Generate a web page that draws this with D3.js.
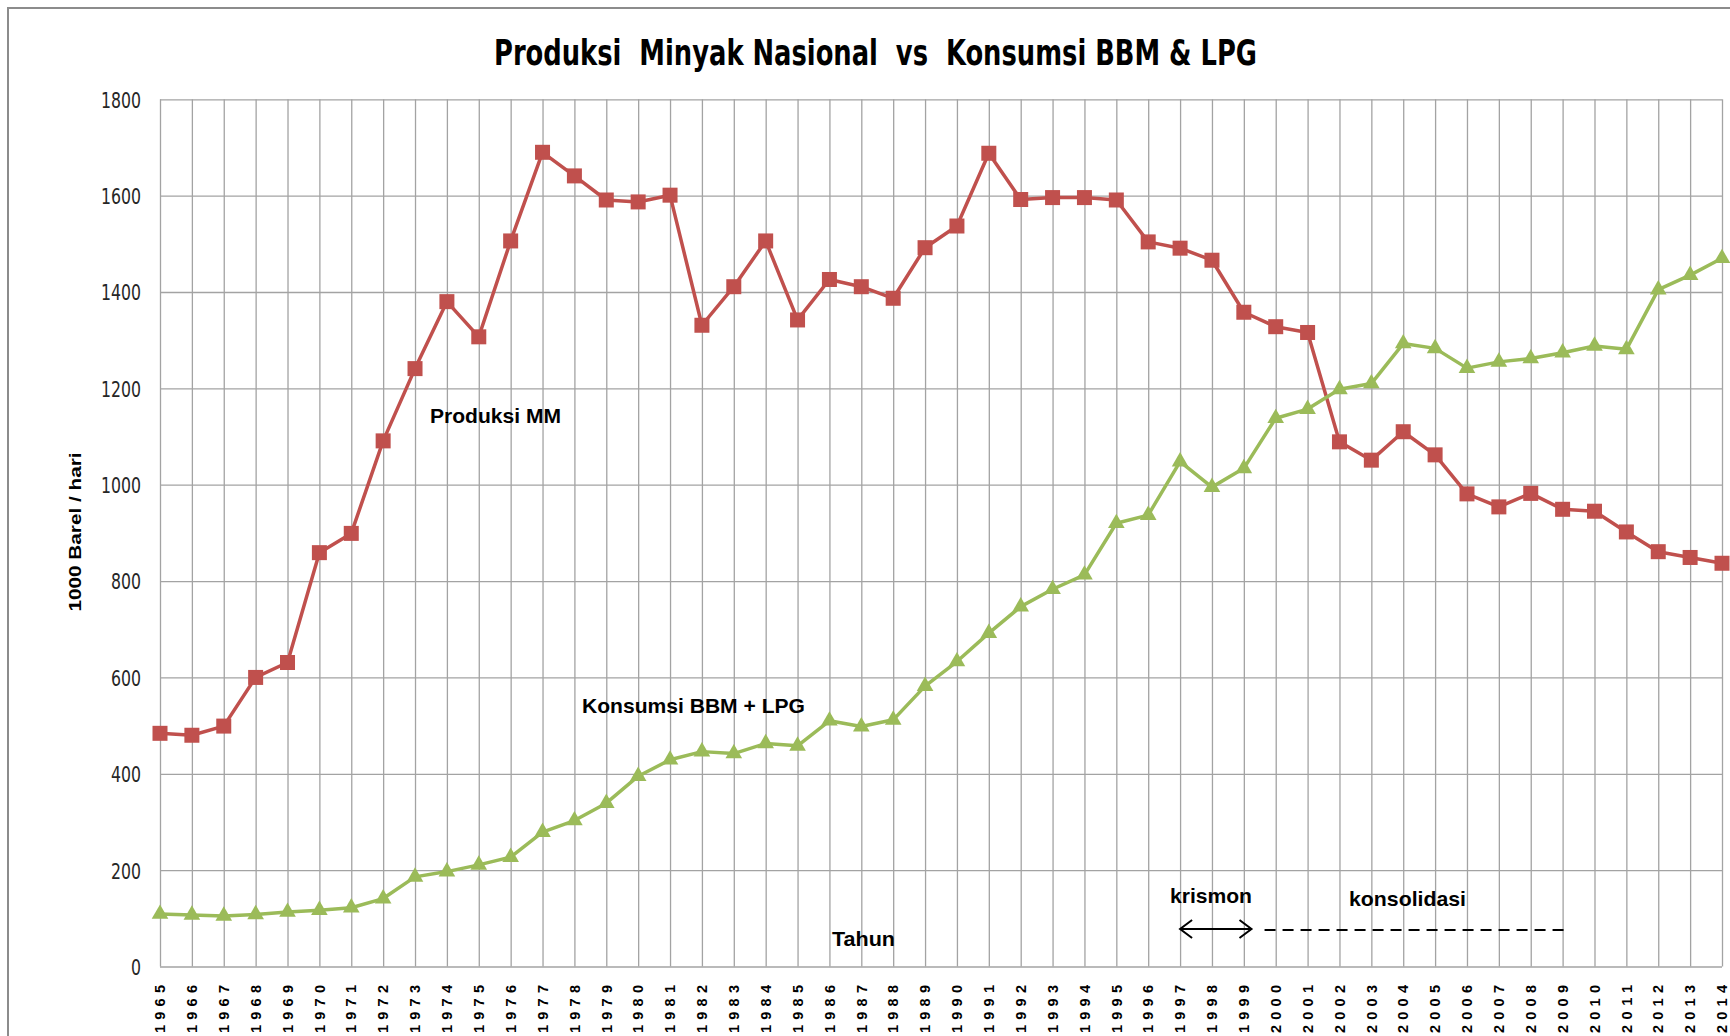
<!doctype html>
<html>
<head>
<meta charset="utf-8">
<style>
  body { margin: 0; background: #fff; }
  .grid line { stroke: #a3a3a3; stroke-width: 1.3; }
  .ytick text { font-family: "Liberation Sans Narrow", "DejaVu Sans Condensed", "Liberation Sans", sans-serif; font-size: 22px; fill: #262626; }
  .note { font-family: "Liberation Sans", Arial, sans-serif; font-weight: bold; font-size: 21px; fill: #000; }
</style>
<script src="https://d3js.org/d3.v7.min.js"></script>
</head>
<body>
<svg width="1730" height="1036" id="chart"></svg>
<script>
var years = d3.range(1965, 2015);
var produksi = [484, 480, 499, 600, 631, 859, 899, 1091, 1241, 1380,
                1307, 1506, 1690, 1641, 1591, 1587, 1601, 1331, 1411, 1506,
                1342, 1426, 1411, 1387, 1492, 1537, 1688, 1592, 1596, 1596,
                1591, 1504, 1491, 1466, 1358, 1328, 1316, 1089, 1051, 1110,
                1062, 981, 954, 982, 949, 945, 902, 861, 849, 837];
var konsumsi = [109, 107, 105, 108, 113, 117, 122, 141, 186, 197,
                211, 227, 279, 303, 339, 395, 429, 446, 442, 463,
                458, 510, 498, 512, 582, 633, 692, 747, 783, 813,
                920, 937, 1048, 995, 1034, 1138, 1157, 1198, 1210, 1293,
                1283, 1242, 1255, 1262, 1274, 1288, 1281, 1405, 1435, 1470];
var yTicks = [0, 200, 400, 600, 800, 1000, 1200, 1400, 1600, 1800];

var svg = d3.select("#chart");
var plotL = 160, plotR = 1722, plotT = 99.3, plotB = 966.5;

var x = d3.scalePoint().domain(years).range([plotL, plotR]);
var xf = d3.scaleLinear().domain([1965, 2014]).range([plotL, plotR]); // for notes between years
var y = d3.scaleLinear().domain([0, 1800]).range([plotB, plotT]);

// chart border
svg.append("rect")
   .attr("x", 8).attr("y", 8)
   .attr("width", 1760).attr("height", 1060)
   .attr("fill", "#fff")
   .attr("stroke", "#8c8c8c")
   .attr("stroke-width", 2);

// title
svg.append("text")
   .attr("x", 494).attr("y", 65)
   .attr("textLength", 763)
   .attr("lengthAdjust", "spacingAndGlyphs")
   .style("white-space", "pre")
   .style("font-family", "'Liberation Sans Narrow', 'DejaVu Sans Condensed', 'Liberation Sans', sans-serif")
   .style("font-weight", "bold")
   .style("font-size", "35px")
   .text("Produksi  Minyak Nasional  vs  Konsumsi BBM & LPG");

// vertical gridlines
svg.append("g")
   .attr("class", "grid")
   .attr("transform", "translate(0," + plotB + ")")
   .call(d3.axisBottom(x).tickSize(-(plotB - plotT)).tickFormat(""))
   .call(function(g) { g.select(".domain").remove(); });

// horizontal gridlines + labels
svg.append("g")
   .attr("class", "grid ytick")
   .attr("transform", "translate(" + plotL + ",0)")
   .call(d3.axisLeft(y).tickValues(yTicks).tickFormat(d3.format("d"))
          .tickSize(-(plotR - plotL)).tickPadding(19))
   .call(function(g) { g.select(".domain").remove(); })
   .call(function(g) {
       g.selectAll("text").attr("dy", "0.36em").attr("textLength", function(d) {
           return String(d).length * 10;
       }).attr("lengthAdjust", "spacingAndGlyphs");
   });

// year labels
svg.append("g").selectAll("text")
   .data(years)
   .enter().append("text")
   .attr("transform", function(d) { return "translate(" + x(d) + ",985) rotate(-90)"; })
   .attr("text-anchor", "end")
   .attr("dy", "0.36em")
   .attr("textLength", 48)
   .attr("lengthAdjust", "spacing")
   .style("font-family", "'Liberation Sans', Arial, sans-serif")
   .style("font-weight", "bold")
   .style("font-size", "14.5px")
   .text(function(d) { return d; });

// y axis title
svg.append("text")
   .attr("transform", "translate(75,532) rotate(-90)")
   .attr("text-anchor", "middle")
   .attr("dy", "0.36em")
   .attr("textLength", 159)
   .attr("lengthAdjust", "spacingAndGlyphs")
   .style("font-family", "'Liberation Sans', Arial, sans-serif")
   .style("font-weight", "bold")
   .style("font-size", "16px")
   .text("1000 Barel / hari");

var line = d3.line()
   .x(function(d, i) { return x(years[i]); })
   .y(function(d) { return y(d); });

// Produksi MM
svg.append("path")
   .datum(produksi)
   .attr("d", line)
   .attr("fill", "none")
   .attr("stroke", "#C0504D")
   .attr("stroke-width", 3.5)
   .attr("stroke-linejoin", "round");

svg.append("g").selectAll("rect")
   .data(produksi)
   .enter().append("rect")
   .attr("x", function(d, i) { return x(years[i]) - 7.5; })
   .attr("y", function(d) { return y(d) - 7.5; })
   .attr("width", 15).attr("height", 15)
   .attr("fill", "#C0504D");

// Konsumsi BBM + LPG
svg.append("path")
   .datum(konsumsi)
   .attr("d", line)
   .attr("fill", "none")
   .attr("stroke", "#9BBB59")
   .attr("stroke-width", 3.5)
   .attr("stroke-linejoin", "round");

var tri = d3.symbol().type(d3.symbolTriangle).size(120);
svg.append("g").selectAll("path")
   .data(konsumsi)
   .enter().append("path")
   .attr("d", tri)
   .attr("transform", function(d, i) { return "translate(" + x(years[i]) + "," + y(d) + ")"; })
   .attr("fill", "#9BBB59");

// notes
var notes = [
    {t: "Produksi MM", x: 430, y: 423, w: 131},
    {t: "Konsumsi BBM + LPG", x: 582, y: 713, w: 223},
    {t: "Tahun", x: 832, y: 946, w: 63},
    {t: "krismon", x: 1170, y: 903, w: 82},
    {t: "konsolidasi", x: 1349, y: 906, w: 117}
];
svg.append("g").selectAll("text")
   .data(notes)
   .enter().append("text")
   .attr("class", "note")
   .attr("x", function(d) { return d.x; })
   .attr("y", function(d) { return d.y; })
   .attr("textLength", function(d) { return d.w; })
   .attr("lengthAdjust", "spacingAndGlyphs")
   .text(function(d) { return d.t; });

// krismon double arrow
var ay = 929, ax0 = xf(1997), ax1 = xf(1999.24);
svg.append("path")
   .attr("d", "M" + ax0 + "," + ay + "H" + ax1 +
              "M" + (ax0 + 12) + "," + (ay - 9) + "L" + ax0 + "," + ay + "L" + (ax0 + 12) + "," + (ay + 9) +
              "M" + (ax1 - 12) + "," + (ay - 9) + "L" + ax1 + "," + ay + "L" + (ax1 - 12) + "," + (ay + 9))
   .attr("fill", "none")
   .attr("stroke", "#000")
   .attr("stroke-width", 2);

// konsolidasi dashed line
svg.append("line")
   .attr("x1", xf(1999.65)).attr("x2", xf(2009.05))
   .attr("y1", 930).attr("y2", 930)
   .attr("stroke", "#000")
   .attr("stroke-width", 2)
   .attr("stroke-dasharray", "11,7");
</script>
</body>
</html>
